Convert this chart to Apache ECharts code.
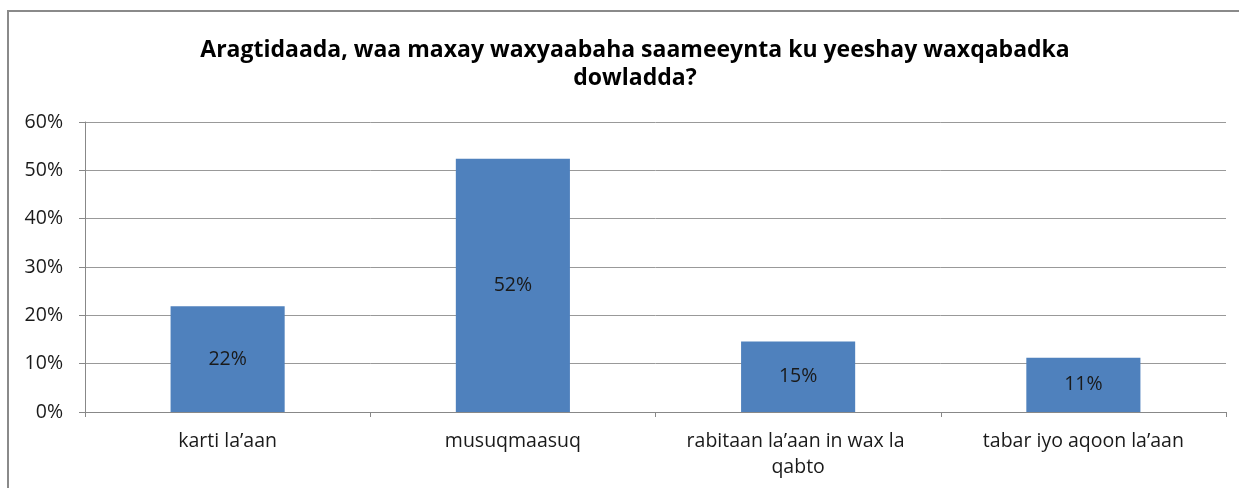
<!DOCTYPE html>
<html><head><meta charset="utf-8">
<script src="https://cdn.jsdelivr.net/npm/echarts@6/dist/echarts.min.js"></script>
<style>html,body{margin:0;padding:0;background:#fff}#c{width:1239px;height:488px}</style>
</head><body><div id="c"></div>
<script>
const titleText = "Aragtidaada, waa maxay waxyaabaha saameeynta ku yeeshay waxqabadka\ndowladda?";
const categories = ["karti la\u2019aan", "musuqmaasuq", "rabitaan la\u2019aan in wax la qabto", "tabar iyo aqoon la\u2019aan"];
const values = [0.219, 0.524, 0.146, 0.112];
const yTicks = [0, 0.1, 0.2, 0.3, 0.4, 0.5, 0.6];

const chart = echarts.init(document.getElementById('c'), null, {renderer: 'canvas'});
const font = "'Open Sans', sans-serif";
chart.setOption({
  animation: false,
  backgroundColor: '#fff',
  graphic: [{
    type: 'rect', shape: {x: 8, y: 11, width: 1240, height: 490},
    style: {fill: 'none', stroke: '#8a8a8a', lineWidth: 2}, silent: true
  }],
  title: {
    text: titleText, left: 630, textAlign: 'center', top: 31,
    textStyle: {fontFamily: font, fontWeight: 'bold', fontSize: 23, color: '#000', lineHeight: 28}
  },
  grid: {left: 85, right: 13, top: 122, bottom: 76, containLabel: false},
  xAxis: {
    type: 'category', data: categories,
    axisLine: {lineStyle: {color: '#888', width: 1}},
    axisTick: {show: true, length: 5, alignWithLabel: false, lineStyle: {color: '#888'}},
    axisLabel: {fontFamily: font, fontSize: 19.5, color: '#1a1a1a', margin: 16, lineHeight: 26,
      width: 245, overflow: 'break', interval: 0}
  },
  yAxis: {
    type: 'value', min: yTicks[0], max: yTicks[yTicks.length - 1], interval: 0.1,
    axisLine: {show: true, lineStyle: {color: '#888'}},
    axisTick: {show: true, length: 6, lineStyle: {color: '#888'}},
    splitLine: {lineStyle: {color: '#999', width: 1}},
    axisLabel: {fontFamily: font, fontSize: 19.5, color: '#1a1a1a', margin: 22,
      formatter: v => Math.round(v * 100) + '%'}
  },
  series: [{
    type: 'bar', data: values, barWidth: '40%',
    itemStyle: {color: '#4F81BD'},
    label: {show: true, position: 'inside', fontFamily: font, fontSize: 19.5, color: '#1a1a1a',
      formatter: p => Math.round(p.value * 100) + '%'}
  }]
});
</script></body></html>
